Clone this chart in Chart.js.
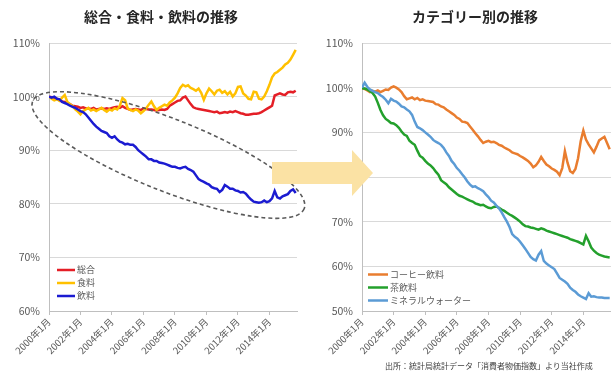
<!DOCTYPE html>
<html><head><meta charset="utf-8">
<script src="https://cdn.jsdelivr.net/npm/chart.js@4.4.1/dist/chart.umd.min.js"></script>
<style>
html,body{margin:0;padding:0;background:#fff;overflow:hidden;width:611px;height:374px;position:relative;}
#c1{position:absolute;left:0;top:0;}
#c2{position:absolute;left:320px;top:0;}
#arrow{position:absolute;left:272px;top:150px;width:101px;height:46px;background:#FBE2A4;
  clip-path:polygon(0 12px,80px 12px,80px 0,101px 23px,80px 46px,80px 34px,0 34px);z-index:5;}
#src{position:absolute;left:385px;top:359px;font-size:8px;font-family:"Noto Sans CJK JP",sans-serif;color:#404040;white-space:nowrap;line-height:14px;}
</style></head><body>
<canvas id="c1" width="322" height="374"></canvas>
<canvas id="c2" width="310" height="374"></canvas>
<div id="arrow"></div>
<div id="src">出所：統計局統計データ「消費者物価指数」より当社作成</div>
<script>
// ---- data (index 2000年1月 = 100%), one value every monthStep months ----
const monthStep = 2;
const tickMonths = [0, 24, 48, 72, 96, 120, 144, 168];
const tickLabels = ["2000年1月","2002年1月","2004年1月","2006年1月","2008年1月","2010年1月","2012年1月","2014年1月"];

const leftTitle = "総合・食料・飲料の推移";
const rightTitle = "カテゴリー別の推移";
const leftSeriesNames = ["総合", "食料", "飲料"];
const rightSeriesNames = ["コーヒー飲料", "茶飲料", "ミネラルウォーター"];

const sogo = [
 100.0, 99.9, 99.6, 99.6, 99.3, 99.1, 99.0, 98.8, 98.6, 98.3,
 98.2, 98.1, 97.9, 98.0, 97.8, 97.8, 97.7, 97.9, 97.6, 97.7,
 97.8, 97.7, 97.8, 97.7, 97.9, 98.0, 98.1, 97.9, 98.2, 97.9,
 97.7, 97.5, 97.6, 97.7, 97.6, 97.5, 97.8, 97.7, 97.6, 97.6,
 97.5, 97.4, 97.5, 97.6, 97.5, 97.7, 98.3, 98.6, 98.9, 99.2,
 99.3, 99.8, 100.0, 99.3, 98.6, 98.0, 97.8, 97.7, 97.6, 97.5,
 97.4, 97.3, 97.2, 97.1, 97.2, 96.9, 97.0, 97.1, 97.0, 97.2,
 97.1, 97.3, 97.1, 96.9, 96.8, 96.6, 96.6, 96.7, 96.8, 96.8,
 96.9, 97.1, 97.4, 97.7, 98.0, 98.3, 100.2, 100.4, 100.6, 100.4,
 100.3, 100.8, 100.9, 100.8, 101.1];
const shokuryo = [
 100.0, 99.6, 99.3, 99.5, 99.2, 99.8, 100.3, 99.0, 98.6, 98.2,
 97.6, 97.2, 96.7, 97.3, 97.6, 97.9, 97.4, 97.6, 97.3, 97.6,
 97.9, 97.5, 97.2, 97.6, 97.4, 97.8, 97.6, 98.3, 99.7, 99.3,
 97.8, 97.5, 97.3, 97.6, 97.4, 96.9, 97.3, 97.8, 98.5, 99.1,
 98.2, 97.5, 97.9, 98.2, 98.5, 98.3, 98.9, 99.3, 99.8, 100.6,
 101.6, 102.2, 101.9, 102.1, 101.6, 101.4, 101.1, 101.5, 100.7, 99.4,
 100.6, 101.5, 101.0, 100.4, 101.1, 101.3, 100.7, 101.0, 100.4, 100.9,
 100.0, 100.6, 101.8, 101.9, 100.6, 100.2, 99.6, 99.5, 100.9, 100.8,
 99.6, 99.5, 100.0, 101.0, 102.2, 103.6, 104.3, 104.6, 105.0, 105.4,
 106.0, 106.3, 106.9, 107.8, 108.7];
const inryo = [
 100.0, 99.8, 100.0, 99.6, 99.5, 99.0, 98.8, 98.6, 98.3, 98.1,
 97.9, 97.6, 97.3, 97.1, 96.7, 96.1, 95.5, 94.9, 94.4, 94.0,
 93.6, 93.4, 93.2, 92.6, 92.3, 92.6, 92.0, 91.6, 91.4, 91.1,
 91.2, 91.0, 91.0, 90.6, 90.0, 89.6, 89.2, 88.8, 88.3, 88.3,
 88.0, 88.0, 87.7, 87.6, 87.5, 87.3, 87.1, 86.9, 86.9, 86.7,
 86.6, 86.8, 86.9, 86.5, 86.3, 86.0, 85.3, 84.6, 84.3, 84.1,
 83.8, 83.6, 83.1, 82.9, 82.8, 82.2, 82.6, 83.5, 83.2, 82.8,
 82.8, 82.5, 82.4, 82.1, 82.2, 81.9, 81.3, 80.8, 80.4, 80.3,
 80.2, 80.3, 80.6, 80.3, 80.5, 81.0, 82.4, 81.2, 81.0, 81.4,
 81.6, 81.8, 82.4, 82.7, 82.0];

const coffee = [
 99.9, 99.7, 99.4, 99.0, 99.3, 99.1, 99.4, 99.0, 99.3, 99.6,
 99.5, 100.0, 100.3, 100.0, 99.6, 99.0, 98.1, 97.4, 97.6, 97.8,
 97.4, 97.7, 97.2, 97.4, 97.1, 97.0, 96.9, 96.8, 96.3, 96.2,
 95.8, 95.6, 95.1, 94.7, 94.3, 93.9, 93.3, 93.0, 92.4, 92.3,
 92.1, 91.3, 90.6, 89.8, 89.1, 88.3, 87.6, 87.9, 88.1, 87.8,
 87.9, 87.6, 87.2, 87.0, 86.6, 86.3, 86.0, 85.5, 85.3, 85.1,
 84.7, 84.4, 84.0, 83.6, 83.0, 82.2, 82.6, 83.4, 84.5, 83.6,
 82.8, 82.4, 81.9, 81.6, 81.2, 80.4, 82.0, 85.8, 83.2, 81.3,
 80.9, 81.8, 84.2, 88.0, 90.4, 88.4, 87.3, 86.4, 85.5, 86.8,
 88.2, 88.6, 89.0, 87.6, 86.2];
const tea = [
 99.9, 99.8, 99.6, 99.2, 98.8, 98.0, 96.6, 95.0, 93.8, 93.0,
 92.6, 92.1, 92.0, 91.6, 91.0, 90.2, 89.5, 89.2, 88.1, 87.6,
 87.2, 85.9, 84.7, 84.3, 83.6, 83.0, 82.6, 82.0, 81.2, 80.5,
 79.3, 78.8, 78.4, 77.7, 77.2, 76.7, 76.2, 75.8, 75.6, 75.3,
 75.0, 74.7, 74.5, 74.1, 73.9, 73.7, 73.8, 73.4, 73.1, 73.0,
 73.3, 73.4, 73.1, 72.7, 72.4, 72.0, 71.6, 71.3, 70.9, 70.5,
 70.0, 69.4, 69.0, 68.9, 68.7, 68.6, 68.4, 68.2, 68.5, 68.3,
 68.0, 67.8, 67.6, 67.4, 67.2, 67.0, 66.8, 66.6, 66.4, 66.1,
 65.9, 65.7, 65.5, 65.2, 64.9, 66.8, 65.6, 64.2, 63.5, 63.0,
 62.6, 62.4, 62.2, 62.1, 62.0];
const water = [
 100.0, 101.1, 100.2, 99.6, 99.3, 99.0, 98.8, 98.3, 97.9, 97.3,
 96.5, 97.5, 97.1, 96.9, 96.4, 95.8, 95.6, 95.1, 94.7, 93.9,
 92.4, 91.2, 90.9, 90.5, 90.0, 89.5, 89.0, 88.3, 87.9, 87.6,
 87.2, 86.5, 85.5, 84.7, 83.6, 82.9, 82.0, 81.4, 80.6, 79.9,
 79.0, 78.3, 77.8, 77.9, 77.5, 77.2, 76.8, 76.1, 75.5, 74.7,
 74.3, 73.6, 73.0, 72.1, 71.0, 70.0, 68.8, 67.2, 66.6, 66.2,
 65.5, 64.7, 63.9, 63.0, 62.1, 61.6, 61.3, 62.6, 63.4, 61.2,
 60.6, 60.2, 59.8, 59.4, 58.4, 57.4, 57.0, 56.6, 56.1, 55.2,
 54.7, 54.3, 53.7, 53.3, 53.0, 52.7, 54.0, 53.2, 53.3, 53.1,
 53.0, 53.0, 52.9, 52.9, 52.9];

const leftColors = ["#E41E26", "#FFC000", "#1B1BD1"];
const rightColors = ["#E97D2F", "#23A02C", "#5B9BD5"];

// ---- helpers ----
Chart.defaults.font.family = '"Noto Sans CJK JP", "Noto Sans", sans-serif';
const FONT = '"Noto Sans CJK JP", "Noto Sans", sans-serif';

const toPoints = vals => vals.map((v, i) => ({x: i * monthStep, y: v}));

const insideLegend = {
  id: 'insideLegend',
  afterDatasetsDraw(chart, args, o) {
    const {ctx, chartArea} = chart;
    const ds = chart.data.datasets;
    ctx.save();
    ctx.font = o.size + 'px ' + FONT;
    ctx.textBaseline = 'middle';
    ctx.textAlign = 'left';
    ds.forEach((d, i) => {
      const y = chartArea.bottom - o.bottom - (ds.length - 1 - i) * o.row;
      const x = chartArea.left + o.left;
      ctx.strokeStyle = d.borderColor; ctx.lineWidth = 2.5;
      ctx.beginPath(); ctx.moveTo(x, y); ctx.lineTo(x + o.sample, y); ctx.stroke();
      ctx.fillStyle = '#595959';
      ctx.fillText(d.label, x + o.sample + 2, y);
    });
    ctx.restore();
  }
};

const ellipseNote = {
  id: 'ellipseNote',
  afterDatasetsDraw(chart, args, o) {
    if (!o || !o.show) return;
    const {ctx, scales} = chart;
    const cx = scales.x.getPixelForValue(o.centerMonth);
    const cy = scales.y.getPixelForValue(o.centerValue);
    ctx.save();
    ctx.setLineDash([4, 3]);
    ctx.lineWidth = 1.6;
    ctx.strokeStyle = '#5a5a5a';
    ctx.beginPath();
    ctx.ellipse(cx, cy, o.rx, o.ry, o.angle, 0, Math.PI * 2);
    ctx.stroke();
    ctx.restore();
  }
};

function makeChart(canvasId, cfg) {
  const n = cfg.series.length;
  return new Chart(document.getElementById(canvasId), {
    type: 'line',
    data: {
      datasets: cfg.series.map((vals, i) => ({
        label: cfg.names[i],
        data: toPoints(vals),
        borderColor: cfg.colors[i],
        backgroundColor: cfg.colors[i],
        borderWidth: 2.5,
        pointRadius: 0,
        tension: 0,
        order: n - i
      }))
    },
    options: {
      responsive: false,
      animation: false,
      layout: {padding: 0},
      plugins: {
        legend: {display: false},
        tooltip: {enabled: false},
        title: {
          display: true, text: cfg.title, color: '#262626',
          font: {size: 14, weight: 'bold', lineHeight: 1.2},
          padding: {top: 8.6, bottom: 17.6}
        },
        insideLegend: cfg.legend,
        ellipseNote: cfg.ellipse || {show: false}
      },
      scales: {
        x: {
          type: 'linear', min: 0, max: 189,
          afterBuildTicks: s => { s.ticks = tickMonths.map(v => ({value: v})); },
          ticks: {
            autoSkip: false, minRotation: 45, maxRotation: 45, padding: 1,
            color: '#595959', font: {size: 9.5},
            callback: v => tickLabels[tickMonths.indexOf(v)]
          },
          grid: {display: true, drawOnChartArea: false, drawTicks: true, tickLength: 4, color: '#bfbfbf'},
          border: {display: true, color: '#bfbfbf'},
          afterFit: s => { s.height = 63; }
        },
        y: {
          min: cfg.yMin, max: cfg.yMax,
          ticks: {stepSize: 10, color: '#595959', font: {size: 10.5}, padding: 9, callback: v => v + '%'},
          grid: {color: '#d9d9d9', drawTicks: false},
          border: {display: true, color: '#bfbfbf'},
          afterFit: s => { s.width = cfg.yAxisWidth; }
        },
        pad: {
          position: 'right', display: true,
          grid: {display: false}, border: {display: false}, ticks: {display: false},
          afterFit: s => { s.width = cfg.rightPad; }
        }
      }
    },
    plugins: [insideLegend, ellipseNote]
  });
}

makeChart('c1', {
  title: leftTitle, names: leftSeriesNames, colors: leftColors,
  series: [sogo, shokuryo, inryo],
  yMin: 60, yMax: 110, yAxisWidth: 49, rightPad: 25,
  legend: {left: 8, bottom: 15, row: 13, sample: 18, size: 9},
  ellipse: {show: true, centerMonth: 91, centerValue: 89.1, rx: 146, ry: 36, angle: 0.377}
});

makeChart('c2', {
  title: rightTitle, names: rightSeriesNames, colors: rightColors,
  series: [coffee, tea, water],
  yMin: 50, yMax: 110, yAxisWidth: 42, rightPad: 19,
  legend: {left: 6, bottom: 10.5, row: 13, sample: 20, size: 9}
});
</script>
</body></html>
